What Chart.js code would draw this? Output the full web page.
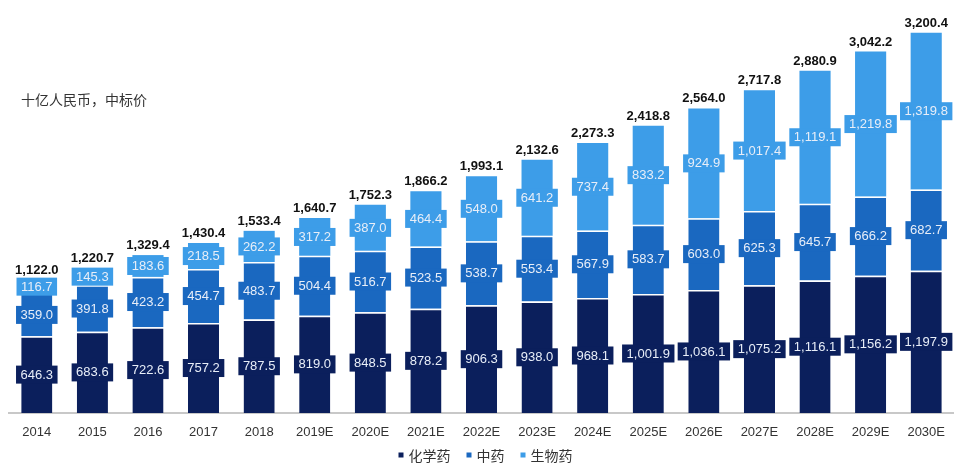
<!DOCTYPE html>
<html>
<head>
<meta charset="utf-8">
<script src="https://cdn.jsdelivr.net/npm/chart.js@4.4.1/dist/chart.umd.min.js"></script>
<style>
  html, body { margin: 0; padding: 0; background: #fff; }
  #wrap { width: 958px; height: 463px; position: relative; }
</style>
</head>
<body>
<div id="wrap"><canvas id="marketChart"></canvas></div>
<script>
// ==========================================
// DATA
// ==========================================
const years = ['2014', '2015', '2016', '2017', '2018', '2019E', '2020E', '2021E', '2022E',
    '2023E', '2024E', '2025E', '2026E', '2027E', '2028E', '2029E', '2030E'];
const chemical = [646.3, 683.6, 722.6, 757.2, 787.5, 819.0, 848.5, 878.2, 906.3,
    938.0, 968.1, 1001.9, 1036.1, 1075.2, 1116.1, 1156.2, 1197.9];
const tcm = [359.0, 391.8, 423.2, 454.7, 483.7, 504.4, 516.7, 523.5, 538.7,
    553.4, 567.9, 583.7, 603.0, 625.3, 645.7, 666.2, 682.7];
const biologic = [116.7, 145.3, 183.6, 218.5, 262.2, 317.2, 387.0, 464.4, 548.0,
    641.2, 737.4, 833.2, 924.9, 1017.4, 1119.1, 1219.8, 1319.8];
const totals = [1122.0, 1220.7, 1329.4, 1430.4, 1533.4, 1640.7, 1752.3, 1866.2, 1993.1,
    2132.6, 2273.3, 2418.8, 2564.0, 2717.8, 2880.9, 3042.2, 3200.4];
const seriesNames = ['化学药', '中药', '生物药'];
const unitText = '十亿人民币，中标价';

const FONT = '"Liberation Sans", Arial, "Noto Sans CJK SC", sans-serif';
const CJK = '"Noto Sans CJK SC", sans-serif';
const fmt = v => v.toLocaleString('en-US', { minimumFractionDigits: 1, maximumFractionDigits: 1 });

// ==========================================
// LABEL PLUGIN (boxed segment values, totals, note, legend)
// ==========================================
const barLabels = {
    id: 'barLabels',
    afterDatasetsDraw(chart) {
        const ctx = chart.ctx;
        ctx.save();
        ctx.font = '13px ' + FONT;
        ctx.textAlign = 'center';
        ctx.textBaseline = 'middle';
        chart.data.datasets.forEach((ds, di) => {
            chart.getDatasetMeta(di).data.forEach((bar, i) => {
                const text = fmt(ds.data[i]);
                const w = ctx.measureText(text).width + 9;
                const h = 18;
                const cy = (bar.y + bar.base) / 2;
                ctx.fillStyle = ds.backgroundColor;
                ctx.fillRect(bar.x - w / 2, cy - h / 2, w, h);
                ctx.fillStyle = '#e8eef8';
                ctx.fillText(text, bar.x, cy + 0.5);
            });
        });

        // totals above the stacks
        ctx.font = 'bold 13px ' + FONT;
        ctx.fillStyle = '#111111';
        ctx.textBaseline = 'alphabetic';
        const topBars = chart.getDatasetMeta(2).data;
        totals.forEach((t, i) => {
            ctx.fillText(fmt(t), topBars[i].x, topBars[i].y - 6);
        });

        // unit note
        ctx.font = '14px ' + CJK;
        ctx.fillStyle = '#333333';
        ctx.textAlign = 'left';
        ctx.textBaseline = 'middle';
        ctx.fillText(unitText, 21, 100);

        // legend along the bottom edge
        const box = 5, gap = 5, spacing = 16, ly = 456;
        const widths = chart.data.datasets.map(ds => box + gap + ctx.measureText(ds.label).width);
        const total = widths.reduce((a, b) => a + b, 0) + spacing * (widths.length - 1);
        let lx = (chart.chartArea.left + chart.chartArea.right) / 2 + 4 - total / 2;
        chart.data.datasets.forEach((ds, di) => {
            ctx.fillStyle = ds.backgroundColor;
            ctx.fillRect(lx, ly - box / 2 - 1, box, box);
            ctx.fillStyle = '#333333';
            ctx.fillText(ds.label, lx + box + gap, ly);
            lx += widths[di] + spacing;
        });
        ctx.restore();
    }
};

// ==========================================
// CHART
// ==========================================
const ctx = document.getElementById('marketChart').getContext('2d');
const sep = { top: 1.5, right: 0, bottom: 0, left: 0 };

new Chart(ctx, {
    type: 'bar',
    data: {
        labels: years,
        datasets: [
            { label: seriesNames[0], data: chemical, backgroundColor: '#0b1f5c', borderColor: '#ffffff', borderWidth: sep },
            { label: seriesNames[1], data: tcm, backgroundColor: '#1a68c0', borderColor: '#ffffff', borderWidth: sep },
            { label: seriesNames[2], data: biologic, backgroundColor: '#3d9de8', borderColor: '#ffffff', borderWidth: 0 }
        ]
    },
    options: {
        responsive: true,
        maintainAspectRatio: false,
        animation: false,
        layout: { padding: { left: 9, right: 0, top: 21, bottom: 11 } },
        datasets: {
            bar: { categoryPercentage: 1.0, barPercentage: 0.56 }
        },
        plugins: {
            legend: { display: false },
            tooltip: { enabled: false }
        },
        scales: {
            x: {
                stacked: true,
                grid: { display: false, drawTicks: false },
                border: { display: true, color: '#c8c8c8', width: 2 },
                ticks: {
                    color: '#333333',
                    padding: 13,
                    maxRotation: 0,
                    font: { family: FONT, size: 13, lineHeight: 1 }
                }
            },
            y: {
                stacked: true,
                display: false,
                min: 0,
                max: 3300
            }
        }
    },
    plugins: [barLabels]
});
</script>
</body>
</html>
